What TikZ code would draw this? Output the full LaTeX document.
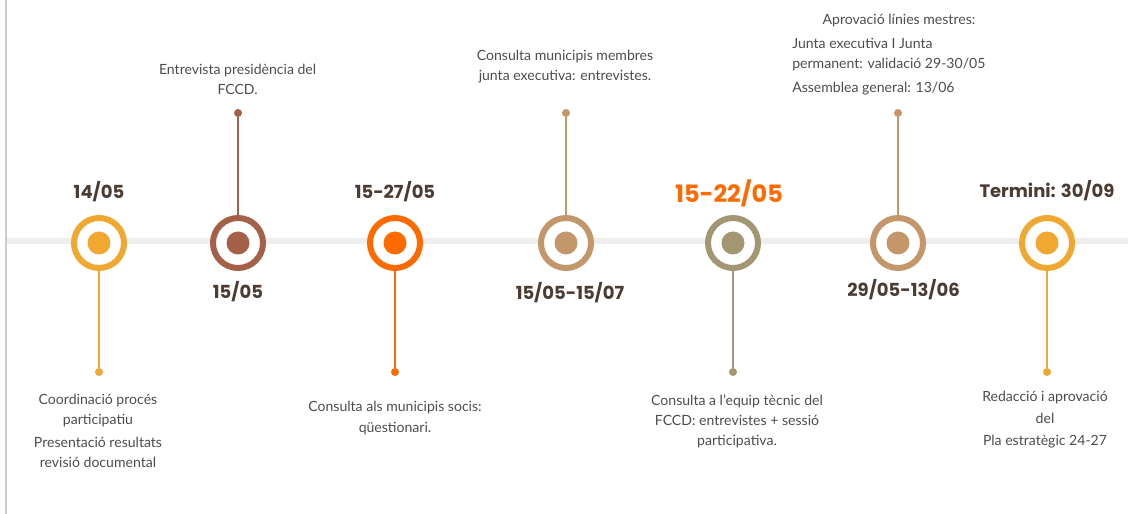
\documentclass[tikz,border=0pt]{standalone}
\usepackage{fontspec}
\usepackage{xcolor}
\usepackage{tikz}
\setmainfont{Lato}
\newfontfamily\datefont{Poppins}
\definecolor{ochre}{HTML}{F0A830}
\definecolor{rust}{HTML}{A5604A}
\definecolor{flame}{HTML}{FF6A00}
\definecolor{sand}{HTML}{C4976B}
\definecolor{sage}{HTML}{A39673}
\definecolor{ink}{HTML}{4B3B33}
\definecolor{notegray}{HTML}{4D4D4D}
\definecolor{rail}{HTML}{EEEEEE}
\definecolor{edge}{HTML}{CCCCCC}

\tikzset{
  ring/.style={circle, draw=#1, fill=white, line width=0.15cm,
    minimum size=1.25cm, inner sep=0pt,
    path picture={\fill[#1] (path picture bounding box.center) circle (0.2875cm);}},
  stem/.style={line width=2pt},
  tip/.style={circle, fill=#1, minimum size=0.2cm, inner sep=0pt},
  date/.style={text=ink, font=\datefont\bfseries\fontsize{12.8}{15}\selectfont},
  note/.style={text=notegray, align=center, font=\fontsize{10}{14.2}\selectfont},
}

\begin{document}
\begin{tikzpicture}

\useasboundingbox (0,-6.825) rectangle (28.2,6.025);

% =========================
% FRAME + TIMELINE RAIL
% =========================
\draw[edge, line width=0.05cm] (0.15,6.025) -- (0.15,-6.825);
\draw[rail, line width=0.15cm] (0.18,0) -- (28.2,0);

% =========================
% MILESTONES
% =========================
\node[ring=ochre] (m1) at (2.475,-0.05) {};
\node[ring=rust]  (m2) at (5.95,-0.05) {};
\node[ring=flame] (m3) at (9.875,-0.05) {};
\node[ring=sand]  (m4) at (14.15,-0.05) {};
\node[ring=sage]  (m5) at (18.325,-0.05) {};
\node[ring=sand]  (m6) at (22.45,-0.05) {};
\node[ring=ochre] (m7) at (26.175,-0.05) {};

% stem ends
\node[tip=ochre] (p1) at (2.475,-3.275) {};
\node[tip=rust]  (p2) at (5.95,3.2) {};
\node[tip=flame] (p3) at (9.875,-3.275) {};
\node[tip=sand]  (p4) at (14.15,3.2) {};
\node[tip=sage]  (p5) at (18.325,-3.275) {};
\node[tip=sand]  (p6) at (22.45,3.2) {};
\node[tip=ochre] (p7) at (26.175,-3.275) {};

% stems
\draw[ochre, stem] (m1.south) -- (p1);
\draw[rust, stem]  (m2.north) -- (p2);
\draw[flame, stem] (m3.south) -- (p3);
\draw[sand, stem]  (m4.north) -- (p4);
\draw[sage, stem]  (m5.south) -- (p5);
\draw[sand, stem]  (m6.north) -- (p6);
\draw[ochre, stem] (m7.south) -- (p7);

% =========================
% DATES
% =========================
\node[date] (d1) at (2.475,1.225) {14/05};
\node[date] (d2) at (5.95,-1.275) {15/05};
\node[date] (d3) at (9.875,1.225) {15-27/05};
\node[date] (d4) at (14.25,-1.3) {15/05-15/07};
\node[date, text=flame, font=\datefont\bfseries\fontsize{17}{20}\selectfont]
  (d5) at (18.225,1.2) {15-22/05};
\node[date] (d6) at (22.59,-1.225) {29/05-13/06};
\node[date] (d7) at (26.175,1.25) {Termini: 30/09};

% =========================
% NOTES
% =========================
\node[note] (n1) at (2.45,-4.75)
{Coordinació procés\\participatiu\\[2pt]Presentació resultats\\revisió documental};
\node[note] (n2) at (5.94,4.04)
{Entrevista presidència del\\FCCD.};
\node[note] (n3) at (9.875,-4.425)
{Consulta als municipis socis:\\[1pt]qüestionari.};
\node[note] (n4) at (14.125,4.35)
{Consulta municipis membres\\junta executiva: entrevistes.};
\node[note] (n5) at (18.425,-4.51)
{Consulta a l’equip tècnic del\\FCCD: entrevistes + sessió\\participativa.};
\node[note] (n6) at (22.475,5.5) {Aprovació línies mestres:};
\node[note, align=left, anchor=west, inner sep=0pt] (n6b) at (19.8,4.36)
{Junta executiva I Junta\\permanent: validació 29-30/05\\[3pt]Assemblea general: 13/06};
\node[note] (n7) at (26.125,-4.475)
{Redacció i aprovació\\[1pt]del\\[2pt]Pla estratègic 24-27};

\end{tikzpicture}
\end{document}
